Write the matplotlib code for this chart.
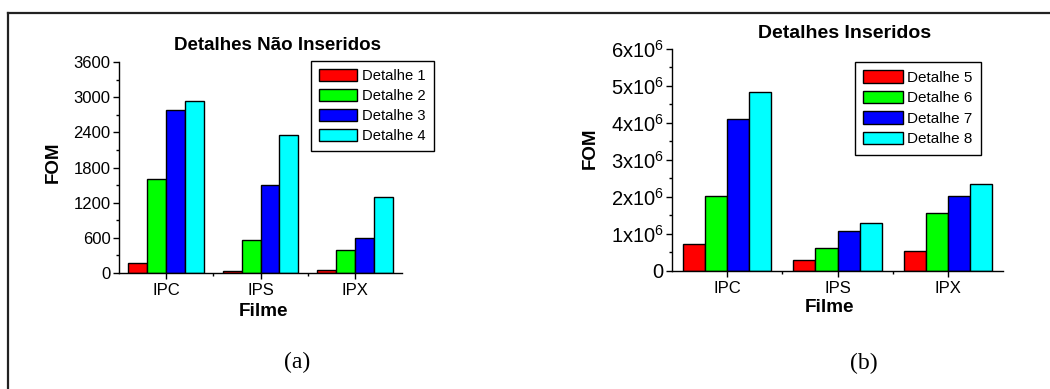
import numpy as np
import matplotlib
matplotlib.use("Agg")
import matplotlib.pyplot as plt
from matplotlib.ticker import FixedLocator, MultipleLocator, FuncFormatter
from matplotlib.lines import Line2D

plt.rcParams['font.family'] = ['Liberation Sans', 'DejaVu Sans']
plt.rcParams['mathtext.fontset'] = 'custom'
plt.rcParams['mathtext.rm'] = 'Liberation Sans'

filmes = ["IPC", "IPS", "IPX"]
colors = ["#ff0000", "#00ff00", "#0000ff", "#00ffff"]

# (a) detalhes nao inseridos
labels_a = ["Detalhe 1", "Detalhe 2", "Detalhe 3", "Detalhe 4"]
det1 = [170, 35, 45]
det2 = [1600, 560, 400]
det3 = [2780, 1500, 600]
det4 = [2930, 2360, 1290]

# (b) detalhes inseridos
labels_b = ["Detalhe 5", "Detalhe 6", "Detalhe 7", "Detalhe 8"]
det5 = [0.74e6, 0.30e6, 0.54e6]
det6 = [2.02e6, 0.62e6, 1.56e6]
det7 = [4.10e6, 1.08e6, 2.02e6]
det8 = [4.84e6, 1.30e6, 2.35e6]

W, H = 1050, 389
fig = plt.figure(figsize=(10.5, 3.89), dpi=100)

def px(x0, y0, x1, y1):
    return [x0 / W, 1 - y1 / H, (x1 - x0) / W, (y1 - y0) / H]

ax1 = fig.add_axes(px(119, 62, 402, 273))
ax2 = fig.add_axes(px(672, 48.7, 1003, 271))

x = np.arange(1, 4)
bw = 0.2

def draw(ax, series, labels):
    for i, (vals, lab) in enumerate(zip(series, labels)):
        ax.bar(x + (i - 1.5) * bw, vals, bw, color=colors[i], edgecolor="black",
               linewidth=1, label=lab)
    ax.set_xlim(0.5, 3.5)
    ax.set_xticks(x)
    ax.set_xticklabels(filmes)
    ax.xaxis.set_minor_locator(FixedLocator([1.5, 2.5]))
    for s in ["top", "right"]:
        ax.spines[s].set_visible(False)
    for s in ["left", "bottom"]:
        ax.spines[s].set_linewidth(1)
    ax.tick_params(axis="both", which="major", direction="out", length=4,
                   width=1, labelsize=12, pad=2)
    ax.tick_params(axis="both", which="minor", direction="out", length=2.5, width=1)
    ax.tick_params(axis="x", which="major", pad=3)

draw(ax1, [det1, det2, det3, det4], labels_a)
ax1.set_ylim(0, 3600)
ax1.set_yticks(np.arange(0, 3601, 600))
ax1.yaxis.set_minor_locator(MultipleLocator(300))

draw(ax2, [det5, det6, det7, det8], labels_b)
ax2.set_ylim(0, 6e6)
ax2.set_yticks(np.arange(0, 6.01e6, 1e6))
ax2.yaxis.set_minor_locator(MultipleLocator(0.5e6))
ax2.yaxis.set_major_formatter(FuncFormatter(
    lambda v, p: "0" if v == 0 else r"$\mathregular{%dx10^{6}}$" % round(v / 1e6)))
ax2.tick_params(axis="y", which="major", labelsize=14.5)

leg_kw = dict(loc="upper left", frameon=True, fancybox=False,
              edgecolor="black", handlelength=2.6, handleheight=0.85,
              handletextpad=0.3, borderpad=0.55, borderaxespad=0)
l1 = ax1.legend(bbox_to_anchor=(311 / W, 1 - 61 / H), fontsize=10.6,
                labelspacing=0.4, bbox_transform=fig.transFigure, **leg_kw)
l2 = ax2.legend(bbox_to_anchor=(854.7 / W, 1 - 62 / H), fontsize=11,
                labelspacing=0.4, bbox_transform=fig.transFigure, **leg_kw)
for l in (l1, l2):
    l.get_frame().set_linewidth(1)
    l.get_frame().set_alpha(1)

fig.text(278 / W, 1 - 46 / H, "Detalhes Não Inseridos", ha="center", va="center",
         fontsize=13.5, fontweight="bold")
fig.text(845 / W, 1 - 33 / H, "Detalhes Inseridos", ha="center", va="center",
         fontsize=14, fontweight="bold")

fig.text(53 / W, 1 - 162 / H, "FOM", ha="center", va="center", rotation=90,
         fontsize=13.5, fontweight="bold")
fig.text(590 / W, 1 - 148 / H, "FOM", ha="center", va="center", rotation=90,
         fontsize=13.5, fontweight="bold")
fig.text(263 / W, 1 - 312 / H, "Filme", ha="center", va="center",
         fontsize=13.6, fontweight="bold")
fig.text(830 / W, 1 - 307 / H, "Filme", ha="center", va="center",
         fontsize=13.6, fontweight="bold")

fig.text(297 / W, 1 - 362 / H, "(a)", ha="center", va="center",
         fontsize=17, family="Liberation Serif")
fig.text(864 / W, 1 - 363 / H, "(b)", ha="center", va="center",
         fontsize=17, family="Liberation Serif")

# outer frame (top and left edges)
fig.add_artist(Line2D([8 / W, 1], [1 - 13 / H, 1 - 13 / H], color="#222222",
                      linewidth=1.6, transform=fig.transFigure))
fig.add_artist(Line2D([8 / W, 8 / W], [0, 1 - 13 / H], color="#222222",
                      linewidth=1.6, transform=fig.transFigure))

fig.savefig("out.png", dpi=100)
